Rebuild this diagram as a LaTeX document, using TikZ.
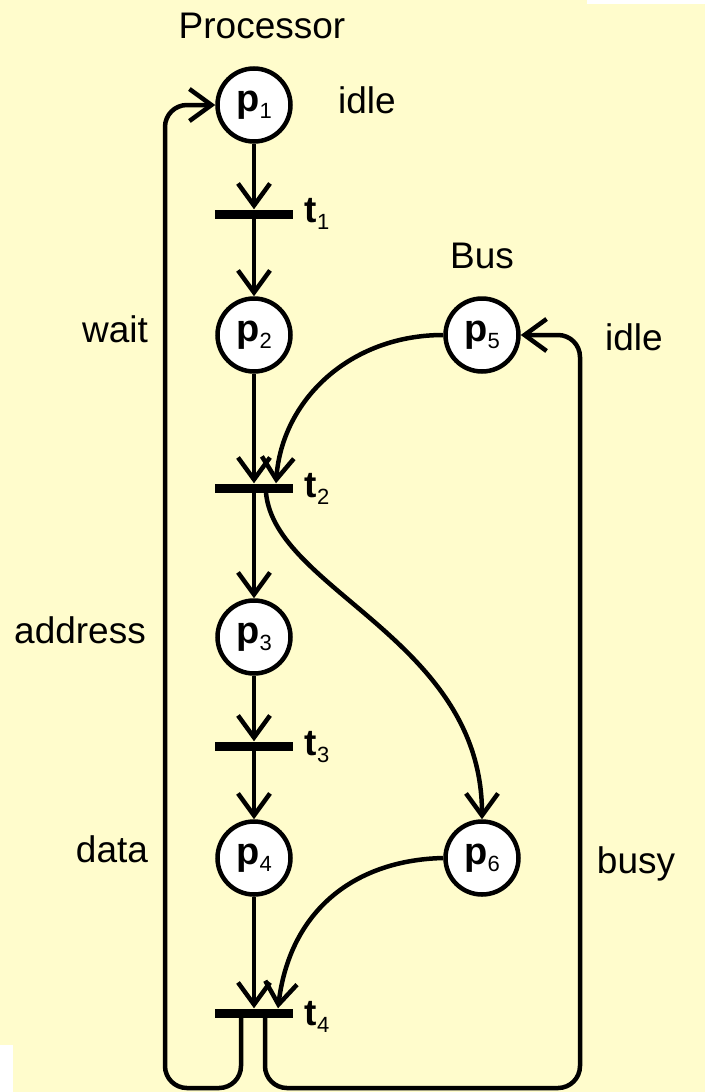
\documentclass[tikz,border=0pt]{standalone}
\usepackage{fontspec}
\setmainfont{Liberation Sans}
\usetikzlibrary{arrows.meta}
\definecolor{paper}{RGB}{255,252,204}
\newcommand\idx[2]{{\bfseries #1}\kern0.5pt\raisebox{-7pt}{\fontsize{22}{22}\selectfont #2}}

\begin{document}
\begin{tikzpicture}[x=1pt,y=-1pt,
  place/.style={circle,draw,line width=4.5pt,fill=white,minimum size=73pt,inner sep=0pt,
                font=\fontsize{38}{38}\selectfont},
  trans/.style={fill=black,minimum width=78pt,minimum height=9pt,inner sep=0pt},
  arc/.style={line width=4.5pt,-{Straight Barb[length=22pt,width=32pt]}},
  lbl/.style={font=\fontsize{37}{37}\selectfont,inner sep=0pt},
  tlbl/.style={font=\fontsize{37}{37}\selectfont,inner sep=0pt,anchor=base west},
]
% page
\fill[paper] (0,0) rectangle (705,1092);
\fill[white] (587,0) rectangle (705,4);
\fill[white] (0,1045) rectangle (13,1092);

% places
\node[place] (p1) at (254,105) {\idx{p}{1}};
\node[place] (p2) at (254,335) {\idx{p}{2}};
\node[place] (p3) at (254,637) {\idx{p}{3}};
\node[place] (p4) at (254,858) {\idx{p}{4}};
\node[place] (p5) at (482,335) {\idx{p}{5}};
\node[place] (p6) at (482,858) {\idx{p}{6}};

% transitions
\node[trans] (t1) at (254,214) {};
\node[trans] (t2) at (254,488) {};
\node[trans] (t3) at (254,746) {};
\node[trans] (t4) at (254,1013) {};

% transition labels
\node[tlbl] (lt1) at (304,222) {\idx{t}{1}};
\node[tlbl] (lt2) at (304,497) {\idx{t}{2}};
\node[tlbl] (lt3) at (304,755) {\idx{t}{3}};
\node[tlbl] (lt4) at (304,1025) {\idx{t}{4}};

% state labels
\node[lbl,anchor=base] (proc) at (262,38) {Processor};
\node[lbl,anchor=base] (idle1) at (367,113) {idle};
\node[lbl,anchor=base] (bus) at (482,268) {Bus};
\node[lbl,anchor=base] (wait) at (115,342) {wait};
\node[lbl,anchor=base] (idle2) at (634,350) {idle};
\node[lbl,anchor=base] (addr) at (80,643) {address};
\node[lbl,anchor=base] (data) at (112,862) {data};
\node[lbl,anchor=base] (busy) at (636,873) {busy};

% loop corners
\coordinate (lb) at (165,1088);
\coordinate (rb) at (580,1088);

% processor chain
\draw[arc] (p1) -- (t1.north);
\draw[arc] (t1) -- (p2);
\draw[arc] (p2) -- (t2.north);
\draw[arc] (t2) -- (p3);
\draw[arc] (p3) -- (t3.north);
\draw[arc] (t3) -- (p4);
\draw[arc] (p4) -- (t4.north);

% bus arcs
\draw[arc] (p5.west) .. controls (350,335) and (282,400) .. ([xshift=22pt]t2.north);
\draw[arc] ([xshift=12pt]t2.south) .. controls (275,590) and (482,640) .. (p6.north);
\draw[arc] (p6.west) .. controls (355,860) and (290,910) .. ([xshift=24pt]t4.north);

% return loops
\draw[arc,rounded corners=22pt] ([xshift=-13pt]t4.south) |- (lb) |- (p1.west);
\draw[arc,rounded corners=22pt] ([xshift=11pt]t4.south) |- (rb) |- (p5.east);
\end{tikzpicture}
\end{document}
